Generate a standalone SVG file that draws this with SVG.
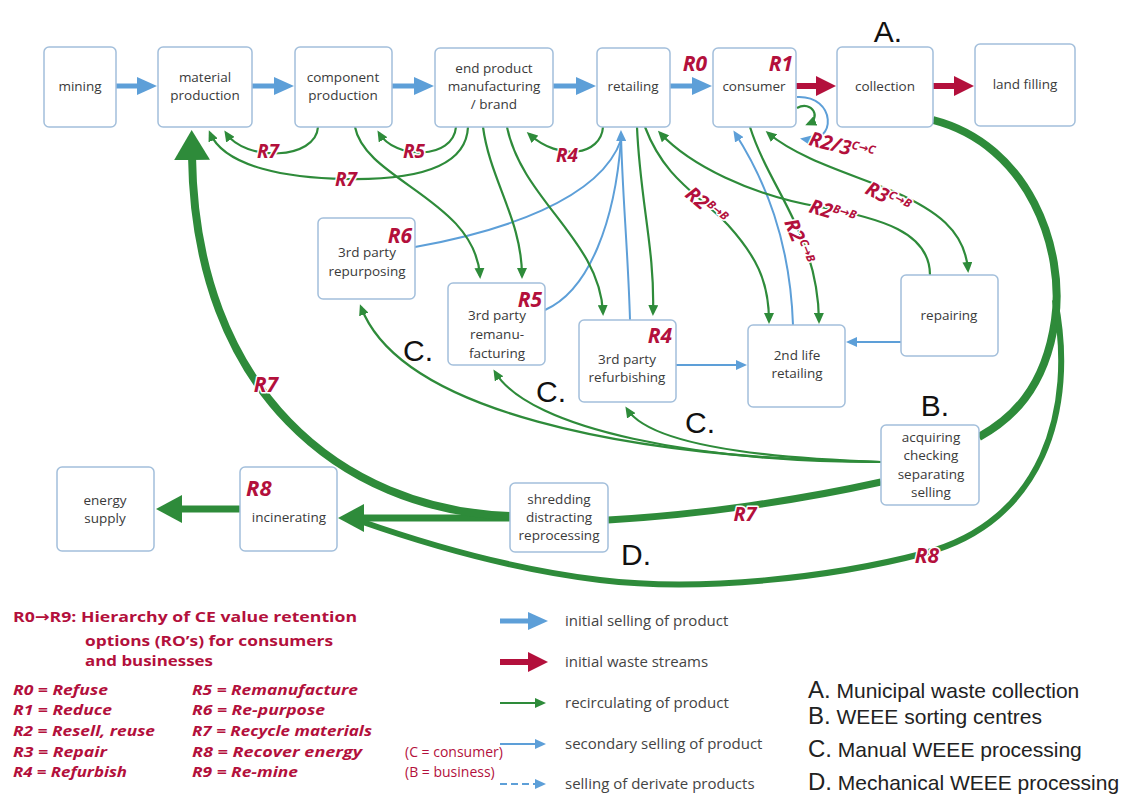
<svg xmlns="http://www.w3.org/2000/svg" width="1133" height="794" viewBox="0 0 1133 794">
<style>
.box{fill:#fff;stroke:#a3bfdb;stroke-width:1.5}
.nt{font-family:"Open Sans","DejaVu Sans",sans-serif;font-size:13.5px;fill:#3a3a3a;text-anchor:middle}
.rl{font-family:"Open Sans","DejaVu Sans",sans-serif;font-weight:bold;font-style:italic;fill:#b3103c}
.hd{font-family:"Open Sans","DejaVu Sans",sans-serif;font-weight:bold;font-size:15px;fill:#b3103c}
.cb{font-family:"Open Sans","DejaVu Sans",sans-serif;font-size:14px;fill:#b3103c}
.halo{stroke:#fff;stroke-width:3;paint-order:stroke;stroke-linejoin:round}
.sup{font-size:11.5px}
.big{font-family:"Liberation Sans",Arial,sans-serif;font-size:30px;fill:#111}
.g{fill:none;stroke:#2e8b3a;stroke-width:2.2}
.b{fill:none;stroke:#5d9fd8;stroke-width:2}
.gt{fill:none;stroke:#2e8b3a}
.bt{fill:none;stroke:#5d9fd8;stroke-width:5}
.rt{fill:none;stroke:#b3103c;stroke-width:6}
.lg{font-family:"Open Sans","DejaVu Sans",sans-serif;font-size:15px;fill:#444}
.key{font-family:"Open Sans","DejaVu Sans",sans-serif;font-weight:bold;font-style:italic;font-size:15px;fill:#b3103c}
.abc{font-family:"Liberation Sans",Arial,sans-serif;font-size:21px;fill:#222}
</style>
<defs>
<marker id="mBT" viewBox="0 0 20 18" refX="2" refY="9" markerWidth="20" markerHeight="18" markerUnits="userSpaceOnUse" orient="auto"><path d="M0,0 L20,9 L0,18 z" fill="#5d9fd8"/></marker>
<marker id="mRT" viewBox="0 0 20 20" refX="2" refY="10" markerWidth="20" markerHeight="20" markerUnits="userSpaceOnUse" orient="auto"><path d="M0,0 L20,10 L0,20 z" fill="#b3103c"/></marker>
<marker id="mG" viewBox="0 0 11 10" refX="8" refY="5" markerWidth="11" markerHeight="10" markerUnits="userSpaceOnUse" orient="auto-start-reverse"><path d="M0,0 L11,5 L0,10 z" fill="#2e8b3a"/></marker>
<marker id="mB" viewBox="0 0 11 10" refX="8" refY="5" markerWidth="11" markerHeight="10" markerUnits="userSpaceOnUse" orient="auto"><path d="M0,0 L11,5 L0,10 z" fill="#5d9fd8"/></marker>
<marker id="mGBig" viewBox="0 0 30 36" refX="4" refY="18" markerWidth="30" markerHeight="36" markerUnits="userSpaceOnUse" orient="auto"><path d="M0,0 L30,18 L0,36 z" fill="#2e8b3a"/></marker>
<marker id="mGMed" viewBox="0 0 26 28" refX="3" refY="14" markerWidth="26" markerHeight="28" markerUnits="userSpaceOnUse" orient="auto"><path d="M0,0 L26,14 L0,28 z" fill="#2e8b3a"/></marker>
</defs>
<rect width="1133" height="794" fill="#fff"/>

<g id="connectors">
<path class="gt" stroke-width="8" d="M933,120 C1030,145 1065,250 1055,320 C1045,390 1010,420 979,437"/>
<path class="gt" stroke-width="6" d="M1055,300 C1077,410 1042,522 925,553 C830,578 700,592 600,580 C500,568 400,535 360,521"/>
<path class="gt" stroke-width="7" d="M881,482 C800,500 700,515 608,520"/>
<path class="gt" stroke-width="7" d="M510,518 L361,518" marker-end="url(#mGMed)"/>
<path class="gt" stroke-width="8" d="M510,516 C340,510 195,390 192,156" marker-end="url(#mGBig)"/>
<path class="gt" stroke-width="7" d="M240,509 L179,509" marker-end="url(#mGMed)"/>
<path class="bt" d="M116,86 L139,86" marker-end="url(#mBT)"/>
<path class="bt" d="M252,86 L276,86" marker-end="url(#mBT)"/>
<path class="bt" d="M392,86 L416,86" marker-end="url(#mBT)"/>
<path class="bt" d="M553,86 L578,86" marker-end="url(#mBT)"/>
<path class="bt" d="M670,86 L694,86" marker-end="url(#mBT)"/>
<path class="rt" d="M796,86 L818,86" marker-end="url(#mRT)"/>
<path class="rt" d="M933,86 L956,86" marker-end="url(#mRT)"/>
<path class="b" d="M630,320 C628,250 622,190 621,133" marker-end="url(#mB)"/>
<path class="b" d="M545,310 C590,290 615,220 621,140"/>
<path class="b" d="M415,247 C500,232 600,200 621,140"/>
<path class="b" d="M676,365 L744,365" marker-end="url(#mB)"/>
<path class="b" d="M901,342 L849,342" marker-end="url(#mB)"/>
<path class="b" d="M793,325 C790,240 765,180 735,133" marker-end="url(#mB)"/>
<path class="b" d="M797,97 C836,95 838,145 803,139" marker-end="url(#mB)"/>
<path class="g" d="M797,108 C812,100 822,118 808,124" marker-end="url(#mG)"/>
<path class="g" d="M318,127 C316,160 245,162 226,133" marker-end="url(#mG)"/>
<path class="g" d="M456,127 C453,160 395,160 379,133" marker-end="url(#mG)"/>
<path class="g" d="M468,127 C466,175 395,180 345,179 C290,178 225,168 210,133" marker-end="url(#mG)"/>
<path class="g" d="M355,127 C365,180 475,200 480,276" marker-end="url(#mG)"/>
<path class="g" d="M483,127 C490,180 522,220 522,276" marker-end="url(#mG)"/>
<path class="g" d="M507,127 C522,200 600,240 603,313" marker-end="url(#mG)"/>
<path class="g" d="M603,127 C601,155 560,162 529,134" marker-end="url(#mG)"/>
<path class="g" d="M637,127 C640,200 655,250 653,313" marker-end="url(#mG)"/>
<path class="g" d="M645,127 C665,180 700,195 728,225 C755,255 769,280 769,321" marker-end="url(#mG)"/>
<path class="g" d="M930,275 C930,232 880,218 820,207 C750,195 690,165 660,133" marker-end="url(#mG)"/>
<path class="g" d="M968,270 C965,230 935,210 895,192 C855,175 800,160 768,133" marker-start="url(#mG)" marker-end="url(#mG)"/>
<path class="g" d="M750,127 C770,190 818,235 819,321" marker-end="url(#mG)"/>
<path class="g" d="M881,462 C760,458 650,445 627,409" marker-end="url(#mG)"/>
<path class="g" d="M881,462 C700,462 530,430 495,372" marker-end="url(#mG)"/>
<path class="g" d="M881,462 C620,458 400,410 361,307" marker-end="url(#mG)"/>
</g>

<g id="n-mining"><rect class="box" x="44" y="47" width="72" height="80" rx="5"/><text class="nt" x="80" y="91">mining</text></g>
<g id="n-material"><rect class="box" x="158" y="47" width="94" height="80" rx="5"/><text class="nt" x="205" y="82">material</text><text class="nt" x="205" y="100">production</text></g>
<g id="n-component"><rect class="box" x="295" y="47" width="97" height="80" rx="5"/><text class="nt" x="343" y="82">component</text><text class="nt" x="343" y="100">production</text></g>
<g id="n-endproduct"><rect class="box" x="435" y="48" width="118" height="79" rx="5"/><text class="nt" x="494" y="73">end product</text><text class="nt" x="494" y="91">manufacturing</text><text class="nt" x="494" y="109">/ brand</text></g>
<g id="n-retailing"><rect class="box" x="597" y="48" width="73" height="79" rx="5"/><text class="nt" x="633" y="91">retailing</text></g>
<g id="n-consumer"><rect class="box" x="713" y="48" width="83" height="79" rx="5"/><text class="nt" x="754" y="91">consumer</text><text class="rl" x="793" y="71" font-size="21" text-anchor="end">R1</text></g>
<g id="n-collection"><rect class="box" x="837" y="47" width="96" height="80" rx="5"/><text class="nt" x="885" y="91">collection</text></g>
<g id="n-landfilling"><rect class="box" x="975" y="44" width="100" height="82" rx="5"/><text class="nt" x="1025" y="89">land filling</text></g>
<g id="n-repurposing"><rect class="box" x="318" y="218" width="97" height="81" rx="5"/><text class="rl" x="412" y="243" font-size="21" text-anchor="end">R6</text><text class="nt" x="367" y="257">3rd party</text><text class="nt" x="367" y="276">repurposing</text></g>
<g id="n-remanufacturing"><rect class="box" x="448" y="283" width="97" height="82" rx="5"/><text class="rl" x="542" y="307" font-size="21" text-anchor="end">R5</text><text class="nt" x="497" y="320">3rd party</text><text class="nt" x="497" y="339">remanu-</text><text class="nt" x="497" y="358">facturing</text></g>
<g id="n-refurbishing"><rect class="box" x="579" y="320" width="97" height="82" rx="5"/><text class="rl" x="672" y="343" font-size="21" text-anchor="end">R4</text><text class="nt" x="627" y="364">3rd party</text><text class="nt" x="627" y="382">refurbishing</text></g>
<g id="n-secondlife"><rect class="box" x="748" y="325" width="97" height="82" rx="5"/><text class="nt" x="797" y="360">2nd life</text><text class="nt" x="797" y="378">retailing</text></g>
<g id="n-repairing"><rect class="box" x="901" y="275" width="97" height="81" rx="5"/><text class="nt" x="949" y="320">repairing</text></g>
<g id="n-acquiring"><rect class="box" x="881" y="425" width="98" height="80" rx="5"/><text class="nt" x="931" y="442">acquiring</text><text class="nt" x="931" y="460">checking</text><text class="nt" x="931" y="479">separating</text><text class="nt" x="931" y="497">selling</text></g>
<g id="n-energy"><rect class="box" x="57" y="467" width="97" height="84" rx="5"/><text class="nt" x="105" y="505">energy</text><text class="nt" x="105" y="523">supply</text></g>
<g id="n-incinerating"><rect class="box" x="240" y="467" width="97" height="84" rx="5"/><text class="rl" x="246" y="496" font-size="22" fill="#c8102e">R8</text><text class="nt" x="289" y="522">incinerating</text></g>
<g id="n-shredding"><rect class="box" x="510" y="483" width="98" height="69" rx="5"/><text class="nt" x="559" y="504">shredding</text><text class="nt" x="559" y="522">distracting</text><text class="nt" x="559" y="540">reprocessing</text></g>

<g id="labels">
<text class="rl" x="695" y="71" font-size="21" text-anchor="middle">R0</text>
<text class="rl halo" x="268" y="158" font-size="19" text-anchor="middle">R7</text>
<text class="rl halo" x="414" y="158" font-size="19" text-anchor="middle">R5</text>
<text class="rl halo" x="346" y="186" font-size="19" text-anchor="middle">R7</text>
<text class="rl halo" x="567" y="162" font-size="19" text-anchor="middle">R4</text>
<text class="rl halo" transform="translate(808,145) rotate(14)" font-size="20">R2/3<tspan class="sup" dy="-7">C→C</tspan></text>
<text class="rl halo" transform="translate(864,193) rotate(27)" font-size="20">R3<tspan class="sup" dy="-7">C→B</tspan></text>
<text class="rl halo" transform="translate(808,212) rotate(17)" font-size="20">R2<tspan class="sup" dy="-7">B→B</tspan></text>
<text class="rl halo" transform="translate(684,196) rotate(40)" font-size="20">R2<tspan class="sup" dy="-7">B→B</tspan></text>
<text class="rl halo" transform="translate(784,222) rotate(68)" font-size="20">R2<tspan class="sup" dy="-7">C→B</tspan></text>
<text class="rl halo" x="266" y="392" font-size="21" text-anchor="middle">R7</text>
<text class="rl halo" x="745" y="521" font-size="20" text-anchor="middle">R7</text>
<text class="rl halo" x="927" y="563" font-size="21" text-anchor="middle">R8</text>
<text class="big" x="888" y="42" text-anchor="middle">A.</text>
<text class="big" x="935" y="416" text-anchor="middle">B.</text>
<text class="big" x="418" y="361" text-anchor="middle">C.</text>
<text class="big" x="551" y="402" text-anchor="middle">C.</text>
<text class="big" x="700" y="433" text-anchor="middle">C.</text>
<text class="big" x="636" y="565" text-anchor="middle">D.</text>
</g>

<g id="legend">
<text class="hd" x="13" y="622" textLength="344" lengthAdjust="spacingAndGlyphs">R0→R9: Hierarchy of CE value retention</text>
<text class="hd" x="85" y="646" textLength="248" lengthAdjust="spacingAndGlyphs">options (RO’s) for consumers</text>
<text class="hd" x="85" y="666" textLength="128" lengthAdjust="spacingAndGlyphs">and businesses</text>
<text class="key" x="13" y="695" textLength="95" lengthAdjust="spacingAndGlyphs">R0 = Refuse</text>
<text class="key" x="13" y="715" textLength="99" lengthAdjust="spacingAndGlyphs">R1 = Reduce</text>
<text class="key" x="13" y="736" textLength="142" lengthAdjust="spacingAndGlyphs">R2 = Resell, reuse</text>
<text class="key" x="13" y="757" textLength="94" lengthAdjust="spacingAndGlyphs">R3 = Repair</text>
<text class="key" x="13" y="777" textLength="114" lengthAdjust="spacingAndGlyphs">R4 = Refurbish</text>
<text class="key" x="192" y="695" textLength="166" lengthAdjust="spacingAndGlyphs">R5 = Remanufacture</text>
<text class="key" x="192" y="715" textLength="133" lengthAdjust="spacingAndGlyphs">R6 = Re-purpose</text>
<text class="key" x="192" y="736" textLength="180" lengthAdjust="spacingAndGlyphs">R7 = Recycle materials</text>
<text class="key" x="192" y="757" textLength="170" lengthAdjust="spacingAndGlyphs">R8 = Recover energy</text>
<text class="key" x="192" y="777" textLength="106" lengthAdjust="spacingAndGlyphs">R9 = Re-mine</text>
<text class="cb" x="405" y="757">(C = consumer)</text>
<text class="cb" x="405" y="777">(B = business)</text>

<path class="bt" stroke-width="6" d="M500,621 L530,621" marker-end="url(#mBT)"/>
<text class="lg" x="565" y="626">initial selling of product</text>
<path class="rt" d="M500,662 L530,662" marker-end="url(#mRT)"/>
<text class="lg" x="565" y="667">initial waste streams</text>
<path class="g" d="M500,703 L543,703" marker-end="url(#mG)"/>
<text class="lg" x="565" y="708">recirculating of product</text>
<path class="b" d="M500,744 L543,744" marker-end="url(#mB)"/>
<text class="lg" x="565" y="749">secondary selling of product</text>
<path class="b" stroke-dasharray="7,4" d="M500,784 L543,784" marker-end="url(#mB)"/>
<text class="lg" x="565" y="789">selling of derivate products</text>

<text class="abc" x="808" y="698"><tspan font-size="24">A.</tspan> Municipal waste collection</text>
<text class="abc" x="808" y="724"><tspan font-size="24">B.</tspan> WEEE sorting centres</text>
<text class="abc" x="808" y="757"><tspan font-size="24">C.</tspan> Manual WEEE processing</text>
<text class="abc" x="808" y="790"><tspan font-size="24">D.</tspan> Mechanical WEEE processing</text>
</g>
</svg>
